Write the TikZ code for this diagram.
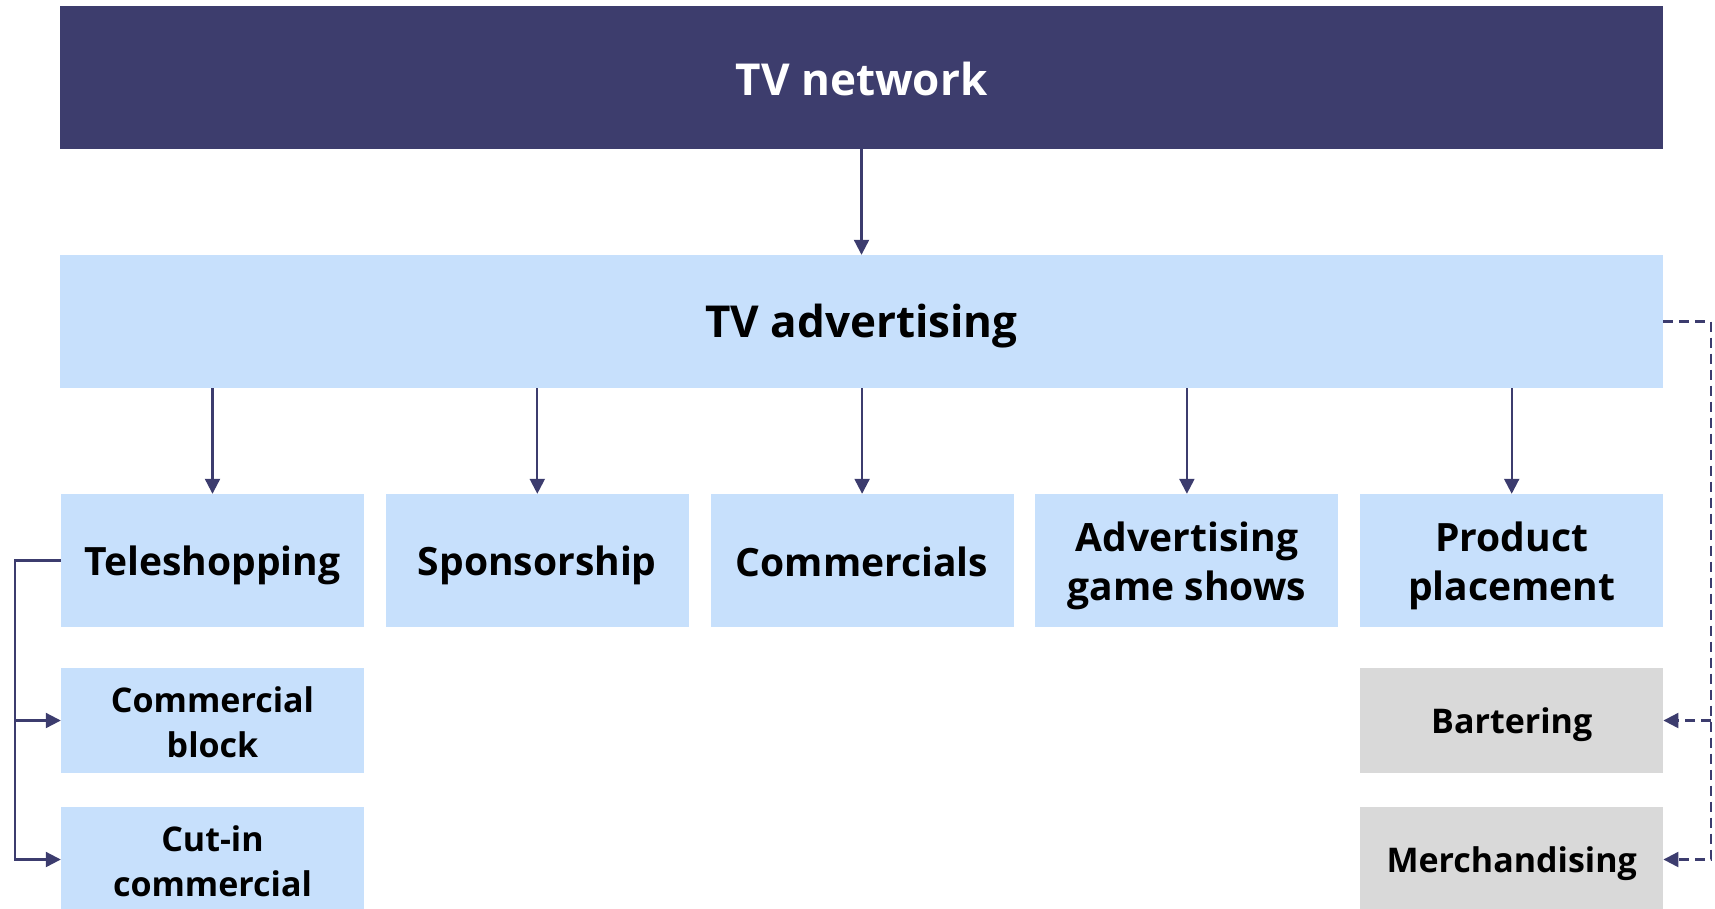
\documentclass[tikz,border=0pt]{standalone}
\usepackage{fontspec}
\setmainfont{Open Sans}
\usetikzlibrary{arrows.meta}
\definecolor{navy}{HTML}{3D3D6D}
\definecolor{lblue}{HTML}{C7E0FC}
\definecolor{lgray}{HTML}{D9D9D9}
\definecolor{arrc}{HTML}{3C3C6E}
\newcommand\lowr[2][5pt]{\raisebox{-#1}[\height][\depth]{#2}}
\tikzset{
  box/.style={rectangle, inner sep=0pt, align=center, font=\fontsize{39}{49}\selectfont\bfseries},
  topbox/.style={box, fill=navy, text=white, minimum width=1603pt, minimum height=143pt, font=\fontsize{44}{49}\selectfont\bfseries},
  advbox/.style={box, fill=lblue, text=black, minimum width=1603pt, minimum height=133pt, font=\fontsize{44}{49}\selectfont\bfseries},
  midbox/.style={box, fill=lblue, text=black, minimum width=303pt, minimum height=133pt},
  subbox/.style={box, fill=lblue, text=black, minimum width=303pt, minimum height=105pt, font=\fontsize{34}{45}\selectfont\bfseries},
  graybox/.style={subbox, fill=lgray},
  conn/.style={draw=arrc, line width=2.2pt},
  arr/.style={conn, -{Triangle[width=15pt,length=15pt]}},
  darr/.style={arr, dash pattern=on 10pt off 6pt},
}
\begin{document}
\begin{tikzpicture}[x=1pt,y=-1pt]
\useasboundingbox (0,0) rectangle (1715,908);
\node[topbox] (net) at (861.5,77.5) {\lowr[1pt]{TV network}};
\node[advbox] (adv) at (861.5,321.5) {\lowr[5pt]{TV advertising}};
\node[midbox] (tele) at (212.5,560.5) {\lowr{Teleshopping}};
\node[midbox] (spon) at (537.3,560.5) {\lowr{Sponsorship}};
\node[midbox] (comm) at (862.1,560.5) {\lowr[1.5pt]{Commercials}};
\node[midbox] (game) at (1186.9,560.5) {\lowr{Advertising}\\\lowr{game shows}};
\node[midbox] (prod) at (1511.7,560.5) {\lowr{Product}\\\lowr{placement}};
\node[subbox] (cb) at (212.5,720.5) {\lowr[2pt]{Commercial}\\\lowr[2pt]{block}};
\node[subbox] (cut) at (212.5,859.5) {\lowr[2pt]{Cut-in}\\\lowr[2pt]{commercial}};
\node[graybox] (bart) at (1511.7,720.5) {\lowr[4pt]{Bartering}};
\node[graybox] (merch) at (1511.7,859.5) {\lowr[4pt]{Merchandising}};
\draw[arr] (net) -- (adv);
\foreach \n in {tele,spon,comm,game,prod}
  \draw[arr] (adv.south -| \n.north) -- (\n.north);
\coordinate (lbus) at (15,560.5);
\draw[arr] (tele.west) -- (lbus) |- (cut.west);
\draw[arr] (lbus |- cb.west) -- (cb.west);
\coordinate (rbus) at (1711,321.5);
\draw[darr] (adv.east) -- (rbus) |- (merch.east);
\draw[darr] (rbus |- bart.east) -- (bart.east);
\end{tikzpicture}
\end{document}
